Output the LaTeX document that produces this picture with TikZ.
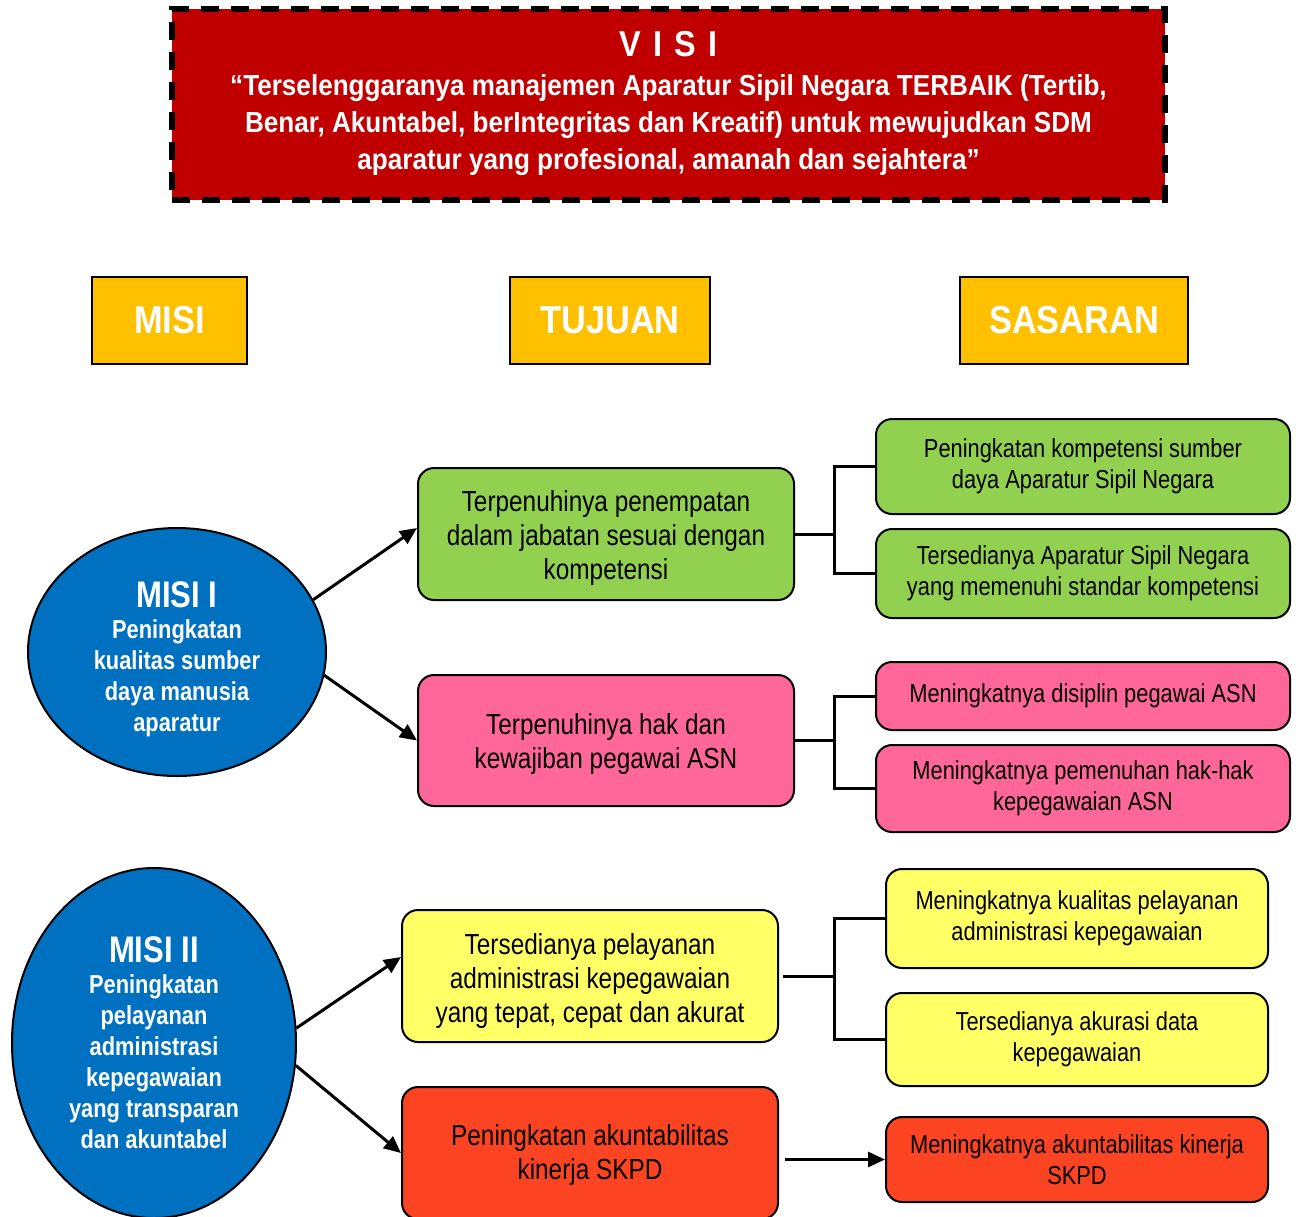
\documentclass[tikz,border=0pt]{standalone}
\usepackage{fontspec}
\setmainfont{Liberation Sans}[FakeStretch=0.84]
\newfontfamily\headfont{Liberation Sans}[FakeStretch=0.88]
\newfontfamily\visifont{Liberation Sans}[FakeStretch=0.9]
\usetikzlibrary{arrows.meta,shapes.geometric}
\definecolor{visired}{HTML}{C00000}
\definecolor{gold}{HTML}{FFC000}
\definecolor{misiblue}{HTML}{0070C0}
\definecolor{tgreen}{HTML}{92D050}
\definecolor{tpink}{HTML}{FF6699}
\definecolor{tyellow}{HTML}{FFFF66}
\definecolor{tred}{HTML}{FC4422}
\newcommand\myup[1]{\rule{0pt}{#1}}
\begin{document}
\begin{tikzpicture}[x=0.5pt,y=-0.5pt,
  box/.style={draw=black, line width=1pt, rounded corners=8pt, align=center, inner sep=0pt, text=black},
  tbox/.style={box, minimum width=188pt, minimum height=66pt, font=\fontsize{14.5}{17}\selectfont},
  sbox/.style={box, font=\fontsize{13}{15.5}\selectfont},
  head/.style={draw=black, line width=0.8pt, fill=gold, text=white, minimum height=43.5pt, inner sep=0pt, font=\headfont\bfseries\fontsize{19.5}{22}\selectfont},
  misi/.style={ellipse, draw=black, line width=1pt, fill=misiblue, text=white, align=center, inner sep=0pt},
  link/.style={line width=1.5pt},
  arr/.style={line width=1.5pt, -{Triangle[length=8.5pt,width=7.5pt]}}]
\useasboundingbox (0,0) rectangle (1300,1216);

% VISI
\node[draw=black, line width=3pt, dash pattern=on 9pt off 6pt, fill=visired, text=white,
  minimum width=496.5pt, minimum height=95.5pt, align=center, inner sep=0pt,
  font=\visifont\bfseries\fontsize{14.5}{18.5}\selectfont] (visi) at (668.5,104)
  {{\fontsize{18}{22}\selectfont V\,\,I\,\,S\,\,I}\\[1pt]
   “Terselenggaranya manajemen Aparatur Sipil Negara TERBAIK (Tertib,\\
   Benar, Akuntabel, berIntegritas dan Kreatif) untuk mewujudkan SDM\\
   aparatur yang profesional, amanah dan sejahtera”};

% Headers
\node[head, minimum width=77.5pt] (hmisi) at (169.5,320.5) {MISI};
\node[head, minimum width=100pt] (htuj) at (610,320.5) {TUJUAN};
\node[head, minimum width=114pt] (hsas) at (1074,320.5) {SASARAN};

% Misi ellipses
\node[misi, minimum width=149pt, minimum height=124pt, font=\bfseries\fontsize{13}{15.5}\selectfont] (m1) at (177,652)
  {\myup{20pt}{\fontsize{18.5}{20}\selectfont MISI I}\\Peningkatan\\kualitas sumber\\daya manusia\\aparatur};
\node[misi, minimum width=142pt, minimum height=175pt, font=\bfseries\fontsize{13}{15.5}\selectfont] (m2) at (154,1043)
  {{\fontsize{18.5}{20}\selectfont MISI II}\\Peningkatan\\pelayanan\\administrasi\\kepegawaian\\yang transparan\\dan akuntabel};

% Tujuan
\node[tbox, fill=tgreen] (t1) at (606,534) {\myup{14.5pt}Terpenuhinya penempatan\\dalam jabatan sesuai dengan\\kompetensi};
\node[tbox, fill=tpink, minimum height=65.5pt] (t2) at (606,740.5) {\myup{13.5pt}Terpenuhinya hak dan\\kewajiban pegawai ASN};
\node[tbox, fill=tyellow] (t3) at (590,976) {\myup{15pt}Tersedianya pelayanan\\administrasi kepegawaian\\yang tepat, cepat dan akurat};
\node[tbox, fill=tred] (t4) at (590,1153) {\myup{12pt}Peningkatan akuntabilitas\\kinerja SKPD};

% Sasaran
\node[sbox, fill=tgreen, minimum width=207pt, minimum height=47.5pt] (s1) at (1083,466.5) {Peningkatan kompetensi sumber\\daya Aparatur Sipil Negara};
\node[sbox, fill=tgreen, minimum width=207pt, minimum height=44.5pt] (s2) at (1083,573.5) {Tersedianya Aparatur Sipil Negara\\yang memenuhi standar kompetensi};
\node[sbox, fill=tpink, minimum width=207pt, minimum height=34pt] (s3) at (1083,696) {Meningkatnya disiplin pegawai ASN};
\node[sbox, fill=tpink, minimum width=207pt, minimum height=43.5pt] (s4) at (1083,788.5) {Meningkatnya pemenuhan hak-hak\\kepegawaian ASN};
\node[sbox, fill=tyellow, minimum width=191pt, minimum height=49.5pt] (s5) at (1077,918.5) {Meningkatnya kualitas pelayanan\\administrasi kepegawaian};
\node[sbox, fill=tyellow, minimum width=191pt, minimum height=46.5pt] (s6) at (1077,1039.5) {Tersedianya akurasi data\\kepegawaian};
\node[sbox, fill=tred, minimum width=191pt, minimum height=42.5pt] (s7) at (1077,1159.5) {Meningkatnya akuntabilitas kinerja\\SKPD};

% Arrows from misi
\draw[arr] (m1.21) -- ([yshift=3pt]t1.west);
\draw[arr] (m1.-9) -- (t2.west);
\draw[arr] (m2.6) -- ([yshift=9.5pt]t3.west);
\draw[arr] (m2.-9) -- (t4.west);

% Brackets
\coordinate (b) at (834,0);
\draw[link] (t1.east) -- (t1.east -| b);
\draw[link] (s1.west) -- (s1.west -| b) -- (s2.west -| b) -- (s2.west);
\draw[link] (t2.east) -- (t2.east -| b);
\draw[link] (s3.west) -- (s3.west -| b) -- (s4.west -| b) -- (s4.west);
\draw[link] ([xshift=2pt]t3.east) -- (t3.east -| b);
\draw[link] (s5.west) -- (s5.west -| b) -- (s6.west -| b) -- (s6.west);
\draw[arr] ([xshift=3pt]t4.east |- s7.west) -- (s7.west);
\end{tikzpicture}
\end{document}
